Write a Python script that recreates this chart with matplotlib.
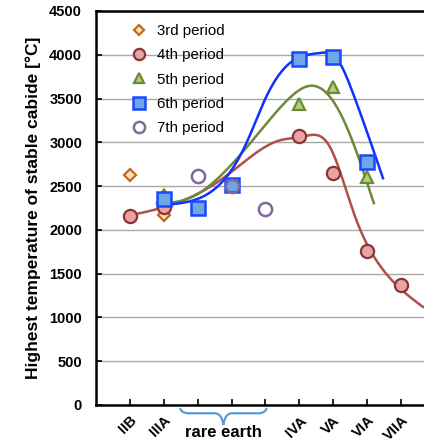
import numpy as np
import matplotlib.pyplot as plt
from matplotlib.path import Path
from matplotlib.patches import PathPatch
from matplotlib.transforms import blended_transform_factory, ScaledTranslation

plt.rcParams['font.family'] = ['Liberation Sans', 'DejaVu Sans']

# group positions on the x axis
group_pos = [1, 2, 3, 4, 5, 6, 7, 8, 9]
group_labels = ['IIB', 'IIIA', '', '', '', 'IVA', 'VA', 'VIA', 'VIIA']

# measured points per period
p3_x = [1, 2]
p3_y = [2630, 2170]
p4_x = [1, 2, 6, 7, 8, 9]
p4_y = [2160, 2260, 3070, 2650, 1760, 1370]
p5_x = [2, 6, 7, 8]
p5_y = [2400, 3440, 3630, 2600]
p6_x = [2, 3, 4, 6, 7, 8]
p6_y = [2350, 2250, 2510, 3950, 3980, 2780]
p7_x = [3, 4, 5]
p7_y = [2620, 2500, 2240]

# trend curves (knots of the smoothed lines)
c4_x = [1.0, 2.4, 3.75, 4.55, 5.4, 6.1, 6.9, 7.6, 8.5, 9.65]
c4_y = [2165, 2310, 2590, 2830, 3020, 3065, 2950, 2200, 1530, 1120]
c5_x = [1.8, 2.8, 3.9, 5.0, 5.75, 6.3, 6.8, 7.4, 8.2]
c5_y = [2300, 2370, 2705, 3200, 3520, 3645, 3565, 3175, 2305]
c6_x = [1.98, 2.7, 3.6, 4.45, 5.0, 5.72, 6.6, 7.1, 7.58, 8.47]
c6_y = [2285, 2320, 2500, 3000, 3500, 3905, 4020, 3960, 3565, 2590]


def smooth(xs, ys, n=400):
    # natural cubic spline through the knots
    x = np.asarray(xs, float)
    y = np.asarray(ys, float)
    k = len(x)
    h = np.diff(x)
    A = np.zeros((k, k))
    r = np.zeros(k)
    A[0, 0] = A[-1, -1] = 1
    for i in range(1, k - 1):
        A[i, i - 1] = h[i - 1]
        A[i, i] = 2 * (h[i - 1] + h[i])
        A[i, i + 1] = h[i]
        r[i] = 6 * ((y[i + 1] - y[i]) / h[i] - (y[i] - y[i - 1]) / h[i - 1])
    m = np.linalg.solve(A, r)
    xx = np.linspace(x[0], x[-1], n)
    j = np.clip(np.searchsorted(x, xx) - 1, 0, k - 2)
    t0 = x[j + 1] - xx
    t1 = xx - x[j]
    hj = h[j]
    yy = (m[j] * t0 ** 3 + m[j + 1] * t1 ** 3) / (6 * hj) \
        + (y[j] / hj - m[j] * hj / 6) * t0 + (y[j + 1] / hj - m[j + 1] * hj / 6) * t1
    return xx, yy


fig = plt.figure(figsize=(4.24, 4.45), dpi=100)
ax = fig.add_axes([0.2264, 0.0899, 0.7736, 0.8854])

ax.set_ylim(0, 4500)
ax.set_xlim(0, 9.68)
ax.set_yticks(np.arange(0, 4501, 500))
ax.yaxis.grid(True, color='#a8a8a8', lw=1.0)
ax.set_axisbelow(True)

# smoothed trends
ax.plot(*smooth(c4_x, c4_y), color='#b0504a', lw=1.8, zorder=2)
ax.plot(*smooth(c5_x, c5_y), color='#6b8a3a', lw=1.8, zorder=2)
ax.plot(*smooth(c6_x, c6_y), color='#1030ff', lw=1.8, zorder=2)

ax.plot(p3_x, p3_y, 'D', ms=6.5, mfc='#fbe3c8', mec='#c46a10', mew=1.6, ls='none',
        label='3rd period', zorder=3)
ax.plot(p4_x, p4_y, 'o', ms=9.5, mfc='#e8a4a4', mec='#8a3434', mew=1.6, ls='none',
        label='4th period', zorder=4)
ax.plot(p5_x, p5_y, '^', ms=9, mfc='#b4cf7c', mec='#6b8a30', mew=1.6, ls='none',
        label='5th period', zorder=5)
ax.plot(p6_x, p6_y, 's', ms=9.5, mfc='#6ea6e6', mec='#1848ff', mew=1.8, ls='none',
        label='6th period', zorder=6)
ax.plot(p7_x, p7_y, 'o', ms=9.5, mfc='none', mec='#8068a0', mew=1.8, ls='none',
        label='7th period', zorder=7)

ax.legend(loc='upper left', bbox_to_anchor=(0.08, 0.99), frameon=False,
          fontsize=10.8, handlelength=1.0, handletextpad=0.75, labelspacing=0.69,
          borderaxespad=0.2, markerscale=0.85)

ax.set_xticks(group_pos)
ax.set_xticklabels(group_labels, rotation=45, ha='right', rotation_mode='anchor',
                   fontweight='bold', fontsize=10.5)
shift = ScaledTranslation(-7 / 100, 0, fig.dpi_scale_trans)
for lab in ax.get_xticklabels():
    lab.set_transform(lab.get_transform() + shift)
ax.tick_params(axis='both', direction='in', length=4, width=1.2)
ax.tick_params(axis='x', pad=6)
ax.tick_params(axis='y', pad=10, labelsize=10.5)
for lab in ax.get_yticklabels():
    lab.set_fontweight('bold')

ax.set_ylabel('Highest temperature of stable cabide [°C]', fontsize=12.5,
              fontweight='bold', labelpad=6)

for side in ('left', 'bottom', 'top'):
    ax.spines[side].set_linewidth(1.8)
ax.spines['right'].set_visible(False)

# brace under the rare earth ticks
tr = blended_transform_factory(ax.transData, ax.transAxes)
xa, xb = 2.48, 5.04
xm = (xa + xb) / 2
yt, yh, yb = -0.008, -0.021, -0.05
verts = [(xa, yt), (xa + 0.05, yh), (xa + 0.25, yh), (xa + 0.25, yh),
         (xm - 0.25, yh), (xm - 0.25, yh), (xm - 0.05, yh), (xm, yb),
         (xm + 0.05, yh), (xm + 0.25, yh), (xm + 0.25, yh),
         (xb - 0.25, yh), (xb - 0.25, yh), (xb - 0.05, yh), (xb, yt)]
codes = [Path.MOVETO, Path.CURVE3, Path.CURVE3, Path.LINETO,
         Path.LINETO, Path.MOVETO, Path.CURVE3, Path.CURVE3,
         Path.CURVE3, Path.CURVE3, Path.MOVETO,
         Path.LINETO, Path.MOVETO, Path.CURVE3, Path.CURVE3]
ax.add_patch(PathPatch(Path(verts, codes), fc='none', ec='#5b9bd5', lw=1.6,
                       transform=tr, clip_on=False))
ax.text(xm, -0.052, 'rare earth', transform=tr, ha='center', va='top',
        fontsize=12, fontweight='bold')

fig.savefig('out.png', dpi=100)
